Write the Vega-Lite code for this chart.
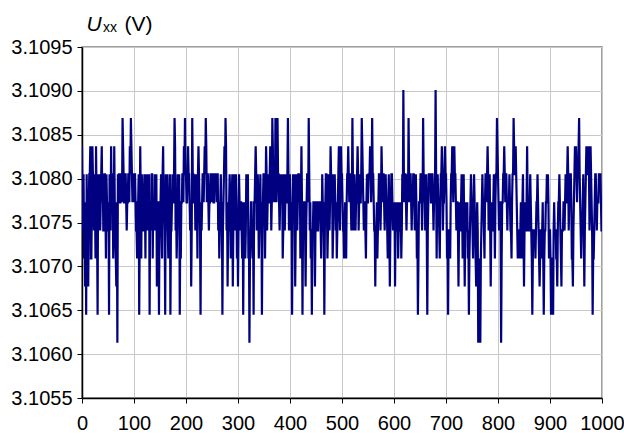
{
"$schema": "https://vega.github.io/schema/vega-lite/v6.json",
"width": 520,
"height": 351,
"autosize": {"type": "none"},
"padding": {"left": 82, "top": 47, "right": 22, "bottom": 36},
"background": "white",
"config": {"view": {"stroke": "#808080", "strokeWidth": 1.5}, "font": "Liberation Sans"},
"title": {"text": "xx", "anchor": "start", "frame": "group", "fontSize": 14, "font": "Liberation Sans", "fontWeight": "normal", "color": "black", "baseline": "alphabetic", "offset": 15, "dx": 21, "dy": 48},
"data": {"values": [
{"x":0,"y":3.10837},{"x":2,"y":3.10741},{"x":4,"y":3.10709},{"x":6,"y":3.10677},{"x":8,"y":3.10645},{"x":10,"y":3.10709},{"x":12,"y":3.10677},{"x":14,"y":3.10805},{"x":16,"y":3.10837},{"x":18,"y":3.10709},{"x":20,"y":3.10837},{"x":22,"y":3.10773},{"x":24,"y":3.10805},{"x":26,"y":3.10709},{"x":28,"y":3.10773},{"x":30,"y":3.10645},{"x":32,"y":3.10741},{"x":34,"y":3.10805},{"x":36,"y":3.10773},{"x":38,"y":3.10837},{"x":40,"y":3.10805},{"x":42,"y":3.10741},{"x":44,"y":3.10805},{"x":46,"y":3.10709},{"x":48,"y":3.10773},
{"x":50,"y":3.10741},{"x":52,"y":3.10645},{"x":54,"y":3.10773},{"x":56,"y":3.10837},{"x":58,"y":3.10805},{"x":60,"y":3.10709},{"x":62,"y":3.10837},{"x":64,"y":3.10741},{"x":66,"y":3.10677},{"x":68,"y":3.10613},{"x":70,"y":3.10773},{"x":72,"y":3.10805},{"x":74,"y":3.10773},{"x":76,"y":3.10805},{"x":78,"y":3.10869},{"x":80,"y":3.10805},{"x":82,"y":3.10773},{"x":84,"y":3.10805},{"x":86,"y":3.10741},{"x":88,"y":3.10773},{"x":90,"y":3.10805},{"x":92,"y":3.10837},{"x":94,"y":3.10869},{"x":96,"y":3.10805},{"x":98,"y":3.10805},
{"x":100,"y":3.10773},{"x":102,"y":3.10805},{"x":104,"y":3.10741},{"x":106,"y":3.10709},{"x":108,"y":3.10773},{"x":110,"y":3.10645},{"x":112,"y":3.10837},{"x":114,"y":3.10709},{"x":116,"y":3.10773},{"x":118,"y":3.10741},{"x":120,"y":3.10805},{"x":122,"y":3.10709},{"x":124,"y":3.10773},{"x":126,"y":3.10805},{"x":128,"y":3.10741},{"x":130,"y":3.10645},{"x":132,"y":3.10773},{"x":134,"y":3.10805},{"x":136,"y":3.10709},{"x":138,"y":3.10773},{"x":140,"y":3.10805},{"x":142,"y":3.10741},{"x":144,"y":3.10677},{"x":146,"y":3.10773},{"x":148,"y":3.10645},
{"x":150,"y":3.10741},{"x":152,"y":3.10805},{"x":154,"y":3.10709},{"x":156,"y":3.10837},{"x":158,"y":3.10773},{"x":160,"y":3.10645},{"x":162,"y":3.10741},{"x":164,"y":3.10805},{"x":166,"y":3.10709},{"x":168,"y":3.10773},{"x":170,"y":3.10645},{"x":172,"y":3.10741},{"x":174,"y":3.10805},{"x":176,"y":3.10773},{"x":178,"y":3.10869},{"x":180,"y":3.10741},{"x":182,"y":3.10709},{"x":184,"y":3.10805},{"x":186,"y":3.10773},{"x":188,"y":3.10645},{"x":190,"y":3.10709},{"x":192,"y":3.10773},{"x":194,"y":3.10805},{"x":196,"y":3.10837},{"x":198,"y":3.10869},
{"x":200,"y":3.10805},{"x":202,"y":3.10773},{"x":204,"y":3.10837},{"x":206,"y":3.10805},{"x":208,"y":3.10741},{"x":210,"y":3.10677},{"x":212,"y":3.10869},{"x":214,"y":3.10805},{"x":216,"y":3.10773},{"x":218,"y":3.10741},{"x":220,"y":3.10805},{"x":222,"y":3.10709},{"x":224,"y":3.10837},{"x":226,"y":3.10773},{"x":228,"y":3.10645},{"x":230,"y":3.10741},{"x":232,"y":3.10805},{"x":234,"y":3.10773},{"x":236,"y":3.10837},{"x":238,"y":3.10869},{"x":240,"y":3.10773},{"x":242,"y":3.10805},{"x":244,"y":3.10741},{"x":246,"y":3.10773},{"x":248,"y":3.10805},
{"x":250,"y":3.10805},{"x":252,"y":3.10805},{"x":254,"y":3.10773},{"x":256,"y":3.10805},{"x":258,"y":3.10805},{"x":260,"y":3.10805},{"x":262,"y":3.10741},{"x":264,"y":3.10709},{"x":266,"y":3.10773},{"x":268,"y":3.10741},{"x":270,"y":3.10645},{"x":272,"y":3.10773},{"x":274,"y":3.10837},{"x":276,"y":3.10869},{"x":278,"y":3.10741},{"x":280,"y":3.10677},{"x":282,"y":3.10741},{"x":284,"y":3.10805},{"x":286,"y":3.10709},{"x":288,"y":3.10773},{"x":290,"y":3.10677},{"x":292,"y":3.10805},{"x":294,"y":3.10741},{"x":296,"y":3.10805},{"x":298,"y":3.10709},
{"x":300,"y":3.10677},{"x":302,"y":3.10805},{"x":304,"y":3.10741},{"x":306,"y":3.10773},{"x":308,"y":3.10709},{"x":310,"y":3.10645},{"x":312,"y":3.10741},{"x":314,"y":3.10709},{"x":316,"y":3.10805},{"x":318,"y":3.10773},{"x":320,"y":3.10709},{"x":322,"y":3.10613},{"x":324,"y":3.10741},{"x":326,"y":3.10773},{"x":328,"y":3.10709},{"x":330,"y":3.10645},{"x":332,"y":3.10773},{"x":334,"y":3.10837},{"x":336,"y":3.10741},{"x":338,"y":3.10805},{"x":340,"y":3.10709},{"x":342,"y":3.10773},{"x":344,"y":3.10741},{"x":346,"y":3.10645},{"x":348,"y":3.10773},
{"x":350,"y":3.10805},{"x":352,"y":3.10709},{"x":354,"y":3.10837},{"x":356,"y":3.10741},{"x":358,"y":3.10805},{"x":360,"y":3.10773},{"x":362,"y":3.10837},{"x":364,"y":3.10741},{"x":366,"y":3.10869},{"x":368,"y":3.10773},{"x":370,"y":3.10805},{"x":372,"y":3.10869},{"x":374,"y":3.10773},{"x":376,"y":3.10869},{"x":378,"y":3.10805},{"x":380,"y":3.10741},{"x":382,"y":3.10805},{"x":384,"y":3.10773},{"x":386,"y":3.10709},{"x":388,"y":3.10773},{"x":390,"y":3.10741},{"x":392,"y":3.10805},{"x":394,"y":3.10773},{"x":396,"y":3.10869},{"x":398,"y":3.10741},
{"x":400,"y":3.10805},{"x":402,"y":3.10741},{"x":404,"y":3.10645},{"x":406,"y":3.10805},{"x":408,"y":3.10773},{"x":410,"y":3.10677},{"x":412,"y":3.10805},{"x":414,"y":3.10741},{"x":416,"y":3.10805},{"x":418,"y":3.10773},{"x":420,"y":3.10709},{"x":422,"y":3.10837},{"x":424,"y":3.10645},{"x":426,"y":3.10741},{"x":428,"y":3.10773},{"x":430,"y":3.10677},{"x":432,"y":3.10773},{"x":434,"y":3.10805},{"x":436,"y":3.10869},{"x":438,"y":3.10741},{"x":440,"y":3.10709},{"x":442,"y":3.10645},{"x":444,"y":3.10741},{"x":446,"y":3.10773},{"x":448,"y":3.10677},
{"x":450,"y":3.10773},{"x":452,"y":3.10773},{"x":454,"y":3.10741},{"x":456,"y":3.10773},{"x":458,"y":3.10773},{"x":460,"y":3.10709},{"x":462,"y":3.10805},{"x":464,"y":3.10741},{"x":466,"y":3.10645},{"x":468,"y":3.10773},{"x":470,"y":3.10805},{"x":472,"y":3.10709},{"x":474,"y":3.10805},{"x":476,"y":3.10741},{"x":478,"y":3.10837},{"x":480,"y":3.10773},{"x":482,"y":3.10709},{"x":484,"y":3.10805},{"x":486,"y":3.10805},{"x":488,"y":3.10741},{"x":490,"y":3.10709},{"x":492,"y":3.10773},{"x":494,"y":3.10837},{"x":496,"y":3.10741},{"x":498,"y":3.10837},
{"x":500,"y":3.10805},{"x":502,"y":3.10741},{"x":504,"y":3.10709},{"x":506,"y":3.10773},{"x":508,"y":3.10709},{"x":510,"y":3.10805},{"x":512,"y":3.10837},{"x":514,"y":3.10773},{"x":516,"y":3.10805},{"x":518,"y":3.10741},{"x":520,"y":3.10869},{"x":522,"y":3.10741},{"x":524,"y":3.10805},{"x":526,"y":3.10741},{"x":528,"y":3.10773},{"x":530,"y":3.10837},{"x":532,"y":3.10741},{"x":534,"y":3.10805},{"x":536,"y":3.10773},{"x":538,"y":3.10869},{"x":540,"y":3.10805},{"x":542,"y":3.10741},{"x":544,"y":3.10773},{"x":546,"y":3.10709},{"x":548,"y":3.10805},
{"x":550,"y":3.10773},{"x":552,"y":3.10805},{"x":554,"y":3.10837},{"x":556,"y":3.10773},{"x":558,"y":3.10869},{"x":560,"y":3.10805},{"x":562,"y":3.10741},{"x":564,"y":3.10677},{"x":566,"y":3.10741},{"x":568,"y":3.10709},{"x":570,"y":3.10773},{"x":572,"y":3.10805},{"x":574,"y":3.10741},{"x":576,"y":3.10837},{"x":578,"y":3.10773},{"x":580,"y":3.10805},{"x":582,"y":3.10741},{"x":584,"y":3.10805},{"x":586,"y":3.10773},{"x":588,"y":3.10709},{"x":590,"y":3.10805},{"x":592,"y":3.10677},{"x":594,"y":3.10773},{"x":596,"y":3.10805},{"x":598,"y":3.10741},
{"x":600,"y":3.10741},{"x":602,"y":3.10677},{"x":604,"y":3.10773},{"x":606,"y":3.10741},{"x":608,"y":3.10709},{"x":610,"y":3.10773},{"x":612,"y":3.10741},{"x":614,"y":3.10709},{"x":616,"y":3.10805},{"x":618,"y":3.10901},{"x":620,"y":3.10773},{"x":622,"y":3.10805},{"x":624,"y":3.10741},{"x":626,"y":3.10805},{"x":628,"y":3.10869},{"x":630,"y":3.10773},{"x":632,"y":3.10805},{"x":634,"y":3.10741},{"x":636,"y":3.10773},{"x":638,"y":3.10805},{"x":640,"y":3.10741},{"x":642,"y":3.10805},{"x":644,"y":3.10709},{"x":646,"y":3.10645},{"x":648,"y":3.10773},
{"x":650,"y":3.10773},{"x":652,"y":3.10805},{"x":654,"y":3.10741},{"x":656,"y":3.10869},{"x":658,"y":3.10773},{"x":660,"y":3.10741},{"x":662,"y":3.10805},{"x":664,"y":3.10645},{"x":666,"y":3.10773},{"x":668,"y":3.10805},{"x":670,"y":3.10805},{"x":672,"y":3.10773},{"x":674,"y":3.10805},{"x":676,"y":3.10741},{"x":678,"y":3.10773},{"x":680,"y":3.10901},{"x":682,"y":3.10709},{"x":684,"y":3.10805},{"x":686,"y":3.10773},{"x":688,"y":3.10709},{"x":690,"y":3.10805},{"x":692,"y":3.10837},{"x":694,"y":3.10741},{"x":696,"y":3.10773},{"x":698,"y":3.10837},
{"x":700,"y":3.10805},{"x":702,"y":3.10709},{"x":704,"y":3.10645},{"x":706,"y":3.10741},{"x":708,"y":3.10709},{"x":710,"y":3.10805},{"x":712,"y":3.10837},{"x":714,"y":3.10773},{"x":716,"y":3.10837},{"x":718,"y":3.10805},{"x":720,"y":3.10741},{"x":722,"y":3.10773},{"x":724,"y":3.10677},{"x":726,"y":3.10773},{"x":728,"y":3.10741},{"x":730,"y":3.10805},{"x":732,"y":3.10709},{"x":734,"y":3.10805},{"x":736,"y":3.10677},{"x":738,"y":3.10773},{"x":740,"y":3.10741},{"x":742,"y":3.10709},{"x":744,"y":3.10645},{"x":746,"y":3.10741},{"x":748,"y":3.10805},
{"x":750,"y":3.10773},{"x":752,"y":3.10709},{"x":754,"y":3.10805},{"x":756,"y":3.10741},{"x":758,"y":3.10677},{"x":760,"y":3.10773},{"x":762,"y":3.10613},{"x":764,"y":3.10709},{"x":766,"y":3.10613},{"x":768,"y":3.10741},{"x":770,"y":3.10805},{"x":772,"y":3.10773},{"x":774,"y":3.10709},{"x":776,"y":3.10805},{"x":778,"y":3.10773},{"x":780,"y":3.10837},{"x":782,"y":3.10741},{"x":784,"y":3.10805},{"x":786,"y":3.10677},{"x":788,"y":3.10773},{"x":790,"y":3.10741},{"x":792,"y":3.10805},{"x":794,"y":3.10709},{"x":796,"y":3.10805},{"x":798,"y":3.10869},
{"x":800,"y":3.10805},{"x":802,"y":3.10741},{"x":804,"y":3.10773},{"x":806,"y":3.10613},{"x":808,"y":3.10773},{"x":810,"y":3.10805},{"x":812,"y":3.10837},{"x":814,"y":3.10773},{"x":816,"y":3.10805},{"x":818,"y":3.10741},{"x":820,"y":3.10773},{"x":822,"y":3.10805},{"x":824,"y":3.10741},{"x":826,"y":3.10709},{"x":828,"y":3.10805},{"x":830,"y":3.10869},{"x":832,"y":3.10805},{"x":834,"y":3.10837},{"x":836,"y":3.10773},{"x":838,"y":3.10709},{"x":840,"y":3.10741},{"x":842,"y":3.10709},{"x":844,"y":3.10773},{"x":846,"y":3.10709},{"x":848,"y":3.10805},
{"x":850,"y":3.10677},{"x":852,"y":3.10773},{"x":854,"y":3.10741},{"x":856,"y":3.10837},{"x":858,"y":3.10741},{"x":860,"y":3.10741},{"x":862,"y":3.10805},{"x":864,"y":3.10741},{"x":866,"y":3.10645},{"x":868,"y":3.10741},{"x":870,"y":3.10741},{"x":872,"y":3.10709},{"x":874,"y":3.10773},{"x":876,"y":3.10805},{"x":878,"y":3.10741},{"x":880,"y":3.10677},{"x":882,"y":3.10741},{"x":884,"y":3.10709},{"x":886,"y":3.10773},{"x":888,"y":3.10645},{"x":890,"y":3.10741},{"x":892,"y":3.10773},{"x":894,"y":3.10805},{"x":896,"y":3.10805},{"x":898,"y":3.10709},
{"x":900,"y":3.10741},{"x":902,"y":3.10645},{"x":904,"y":3.10709},{"x":906,"y":3.10645},{"x":908,"y":3.10773},{"x":910,"y":3.10741},{"x":912,"y":3.10709},{"x":914,"y":3.10677},{"x":916,"y":3.10773},{"x":918,"y":3.10805},{"x":920,"y":3.10741},{"x":922,"y":3.10677},{"x":924,"y":3.10741},{"x":926,"y":3.10773},{"x":928,"y":3.10741},{"x":930,"y":3.10805},{"x":932,"y":3.10773},{"x":934,"y":3.10837},{"x":936,"y":3.10741},{"x":938,"y":3.10805},{"x":940,"y":3.10805},{"x":942,"y":3.10709},{"x":944,"y":3.10677},{"x":946,"y":3.10773},{"x":948,"y":3.10837},
{"x":950,"y":3.10837},{"x":952,"y":3.10773},{"x":954,"y":3.10805},{"x":956,"y":3.10869},{"x":958,"y":3.10773},{"x":960,"y":3.10709},{"x":962,"y":3.10741},{"x":964,"y":3.10805},{"x":966,"y":3.10677},{"x":968,"y":3.10773},{"x":970,"y":3.10837},{"x":972,"y":3.10805},{"x":974,"y":3.10837},{"x":976,"y":3.10741},{"x":978,"y":3.10837},{"x":980,"y":3.10773},{"x":982,"y":3.10645},{"x":984,"y":3.10709},{"x":986,"y":3.10773},{"x":988,"y":3.10805},{"x":990,"y":3.10741},{"x":992,"y":3.10773},{"x":994,"y":3.10805},{"x":996,"y":3.10805},{"x":998,"y":3.10773},{"x":1000,"y":3.10741},
{"x":1,"y":3.10773},{"x":3,"y":3.10805},{"x":5,"y":3.10741},{"x":7,"y":3.10773},{"x":9,"y":3.10805},{"x":11,"y":3.10741},{"x":13,"y":3.10773},{"x":15,"y":3.10805},{"x":17,"y":3.10709},{"x":19,"y":3.10773},{"x":21,"y":3.10805},{"x":23,"y":3.10741},{"x":25,"y":3.10773},{"x":27,"y":3.10837},{"x":29,"y":3.10741},{"x":31,"y":3.10805},{"x":33,"y":3.10773},{"x":35,"y":3.10741},{"x":37,"y":3.10805},{"x":39,"y":3.10773},{"x":41,"y":3.10741},{"x":43,"y":3.10805},{"x":45,"y":3.10773},{"x":47,"y":3.10805},{"x":49,"y":3.10741},
{"x":51,"y":3.10773},{"x":53,"y":3.10805},{"x":55,"y":3.10741},{"x":57,"y":3.10773},{"x":59,"y":3.10805},{"x":61,"y":3.10741},{"x":63,"y":3.10773},{"x":65,"y":3.10709},{"x":67,"y":3.10773},{"x":69,"y":3.10805},{"x":71,"y":3.10805},{"x":73,"y":3.10773},{"x":75,"y":3.10805},{"x":77,"y":3.10773},{"x":79,"y":3.10837},{"x":81,"y":3.10773},{"x":83,"y":3.10805},{"x":85,"y":3.10773},{"x":87,"y":3.10773},{"x":89,"y":3.10805},{"x":91,"y":3.10773},{"x":93,"y":3.10805},{"x":95,"y":3.10837},{"x":97,"y":3.10773},{"x":99,"y":3.10805},
{"x":101,"y":3.10805},{"x":103,"y":3.10773},{"x":105,"y":3.10741},{"x":107,"y":3.10773},{"x":109,"y":3.10805},{"x":111,"y":3.10741},{"x":113,"y":3.10773},{"x":115,"y":3.10805},{"x":117,"y":3.10741},{"x":119,"y":3.10773},{"x":121,"y":3.10773},{"x":123,"y":3.10805},{"x":125,"y":3.10741},{"x":127,"y":3.10773},{"x":129,"y":3.10805},{"x":131,"y":3.10773},{"x":133,"y":3.10741},{"x":135,"y":3.10805},{"x":137,"y":3.10773},{"x":139,"y":3.10741},{"x":141,"y":3.10773},{"x":143,"y":3.10805},{"x":145,"y":3.10741},{"x":147,"y":3.10773},{"x":149,"y":3.10741},
{"x":151,"y":3.10773},{"x":153,"y":3.10741},{"x":155,"y":3.10805},{"x":157,"y":3.10773},{"x":159,"y":3.10741},{"x":161,"y":3.10805},{"x":163,"y":3.10773},{"x":165,"y":3.10741},{"x":167,"y":3.10773},{"x":169,"y":3.10805},{"x":171,"y":3.10741},{"x":173,"y":3.10773},{"x":175,"y":3.10773},{"x":177,"y":3.10805},{"x":179,"y":3.10837},{"x":181,"y":3.10773},{"x":183,"y":3.10741},{"x":185,"y":3.10773},{"x":187,"y":3.10805},{"x":189,"y":3.10741},{"x":191,"y":3.10773},{"x":193,"y":3.10805},{"x":195,"y":3.10773},{"x":197,"y":3.10805},{"x":199,"y":3.10805},
{"x":201,"y":3.10773},{"x":203,"y":3.10805},{"x":205,"y":3.10805},{"x":207,"y":3.10773},{"x":209,"y":3.10773},{"x":211,"y":3.10741},{"x":213,"y":3.10805},{"x":215,"y":3.10773},{"x":217,"y":3.10805},{"x":219,"y":3.10773},{"x":221,"y":3.10773},{"x":223,"y":3.10805},{"x":225,"y":3.10805},{"x":227,"y":3.10741},{"x":229,"y":3.10773},{"x":231,"y":3.10773},{"x":233,"y":3.10805},{"x":235,"y":3.10805},{"x":237,"y":3.10805},{"x":239,"y":3.10837},{"x":241,"y":3.10805},{"x":243,"y":3.10773},{"x":245,"y":3.10773},{"x":247,"y":3.10805},{"x":249,"y":3.10773},
{"x":251,"y":3.10805},{"x":253,"y":3.10773},{"x":255,"y":3.10805},{"x":257,"y":3.10805},{"x":259,"y":3.10773},{"x":261,"y":3.10805},{"x":263,"y":3.10773},{"x":265,"y":3.10741},{"x":267,"y":3.10805},{"x":269,"y":3.10773},{"x":271,"y":3.10741},{"x":273,"y":3.10805},{"x":275,"y":3.10805},{"x":277,"y":3.10837},{"x":279,"y":3.10773},{"x":281,"y":3.10741},{"x":283,"y":3.10773},{"x":285,"y":3.10773},{"x":287,"y":3.10741},{"x":289,"y":3.10805},{"x":291,"y":3.10741},{"x":293,"y":3.10773},{"x":295,"y":3.10773},{"x":297,"y":3.10773},{"x":299,"y":3.10741},
{"x":301,"y":3.10741},{"x":303,"y":3.10773},{"x":305,"y":3.10773},{"x":307,"y":3.10741},{"x":309,"y":3.10773},{"x":311,"y":3.10741},{"x":313,"y":3.10773},{"x":315,"y":3.10741},{"x":317,"y":3.10773},{"x":319,"y":3.10805},{"x":321,"y":3.10741},{"x":323,"y":3.10709},{"x":325,"y":3.10773},{"x":327,"y":3.10741},{"x":329,"y":3.10741},{"x":331,"y":3.10773},{"x":333,"y":3.10805},{"x":335,"y":3.10805},{"x":337,"y":3.10773},{"x":339,"y":3.10773},{"x":341,"y":3.10741},{"x":343,"y":3.10805},{"x":345,"y":3.10773},{"x":347,"y":3.10741},{"x":349,"y":3.10805},
{"x":351,"y":3.10773},{"x":353,"y":3.10773},{"x":355,"y":3.10805},{"x":357,"y":3.10773},{"x":359,"y":3.10773},{"x":361,"y":3.10805},{"x":363,"y":3.10805},{"x":365,"y":3.10773},{"x":367,"y":3.10837},{"x":369,"y":3.10805},{"x":371,"y":3.10773},{"x":373,"y":3.10837},{"x":375,"y":3.10805},{"x":377,"y":3.10805},{"x":379,"y":3.10773},{"x":381,"y":3.10773},{"x":383,"y":3.10773},{"x":385,"y":3.10805},{"x":387,"y":3.10741},{"x":389,"y":3.10805},{"x":391,"y":3.10773},{"x":393,"y":3.10773},{"x":395,"y":3.10805},{"x":397,"y":3.10805},{"x":399,"y":3.10773},
{"x":401,"y":3.10773},{"x":403,"y":3.10773},{"x":405,"y":3.10741},{"x":407,"y":3.10773},{"x":409,"y":3.10805},{"x":411,"y":3.10741},{"x":413,"y":3.10773},{"x":415,"y":3.10773},{"x":417,"y":3.10805},{"x":419,"y":3.10805},{"x":421,"y":3.10773},{"x":423,"y":3.10773},{"x":425,"y":3.10741},{"x":427,"y":3.10773},{"x":429,"y":3.10741},{"x":431,"y":3.10741},{"x":433,"y":3.10805},{"x":435,"y":3.10773},{"x":437,"y":3.10805},{"x":439,"y":3.10773},{"x":441,"y":3.10741},{"x":443,"y":3.10741},{"x":445,"y":3.10773},{"x":447,"y":3.10741},{"x":449,"y":3.10741},
{"x":451,"y":3.10773},{"x":453,"y":3.10741},{"x":455,"y":3.10773},{"x":457,"y":3.10773},{"x":459,"y":3.10741},{"x":461,"y":3.10741},{"x":463,"y":3.10773},{"x":465,"y":3.10773},{"x":467,"y":3.10741},{"x":469,"y":3.10805},{"x":471,"y":3.10773},{"x":473,"y":3.10741},{"x":475,"y":3.10773},{"x":477,"y":3.10773},{"x":479,"y":3.10805},{"x":481,"y":3.10805},{"x":483,"y":3.10741},{"x":485,"y":3.10773},{"x":487,"y":3.10773},{"x":489,"y":3.10773},{"x":491,"y":3.10741},{"x":493,"y":3.10805},{"x":495,"y":3.10773},{"x":497,"y":3.10805},{"x":499,"y":3.10805},
{"x":501,"y":3.10773},{"x":503,"y":3.10741},{"x":505,"y":3.10741},{"x":507,"y":3.10741},{"x":509,"y":3.10773},{"x":511,"y":3.10805},{"x":513,"y":3.10805},{"x":515,"y":3.10805},{"x":517,"y":3.10773},{"x":519,"y":3.10773},{"x":521,"y":3.10805},{"x":523,"y":3.10773},{"x":525,"y":3.10773},{"x":527,"y":3.10773},{"x":529,"y":3.10805},{"x":531,"y":3.10805},{"x":533,"y":3.10773},{"x":535,"y":3.10773},{"x":537,"y":3.10805},{"x":539,"y":3.10837},{"x":541,"y":3.10773},{"x":543,"y":3.10773},{"x":545,"y":3.10741},{"x":547,"y":3.10773},{"x":549,"y":3.10773},
{"x":551,"y":3.10805},{"x":553,"y":3.10805},{"x":555,"y":3.10805},{"x":557,"y":3.10805},{"x":559,"y":3.10805},{"x":561,"y":3.10773},{"x":563,"y":3.10741},{"x":565,"y":3.10741},{"x":567,"y":3.10773},{"x":569,"y":3.10741},{"x":571,"y":3.10805},{"x":573,"y":3.10773},{"x":575,"y":3.10773},{"x":577,"y":3.10805},{"x":579,"y":3.10805},{"x":581,"y":3.10773},{"x":583,"y":3.10773},{"x":585,"y":3.10773},{"x":587,"y":3.10741},{"x":589,"y":3.10773},{"x":591,"y":3.10741},{"x":593,"y":3.10741},{"x":595,"y":3.10805},{"x":597,"y":3.10773},{"x":599,"y":3.10773},
{"x":601,"y":3.10773},{"x":603,"y":3.10741},{"x":605,"y":3.10741},{"x":607,"y":3.10773},{"x":609,"y":3.10741},{"x":611,"y":3.10741},{"x":613,"y":3.10773},{"x":615,"y":3.10741},{"x":617,"y":3.10773},{"x":619,"y":3.10805},{"x":621,"y":3.10805},{"x":623,"y":3.10773},{"x":625,"y":3.10773},{"x":627,"y":3.10773},{"x":629,"y":3.10805},{"x":631,"y":3.10805},{"x":633,"y":3.10773},{"x":635,"y":3.10773},{"x":637,"y":3.10805},{"x":639,"y":3.10773},{"x":641,"y":3.10773},{"x":643,"y":3.10773},{"x":645,"y":3.10741},{"x":647,"y":3.10709},{"x":649,"y":3.10773},
{"x":651,"y":3.10805},{"x":653,"y":3.10773},{"x":655,"y":3.10773},{"x":657,"y":3.10805},{"x":659,"y":3.10805},{"x":661,"y":3.10773},{"x":663,"y":3.10741},{"x":665,"y":3.10741},{"x":667,"y":3.10805},{"x":669,"y":3.10805},{"x":671,"y":3.10773},{"x":673,"y":3.10805},{"x":675,"y":3.10773},{"x":677,"y":3.10773},{"x":679,"y":3.10805},{"x":681,"y":3.10805},{"x":683,"y":3.10773},{"x":685,"y":3.10773},{"x":687,"y":3.10741},{"x":689,"y":3.10773},{"x":691,"y":3.10805},{"x":693,"y":3.10805},{"x":695,"y":3.10773},{"x":697,"y":3.10805},{"x":699,"y":3.10805},
{"x":701,"y":3.10773},{"x":703,"y":3.10741},{"x":705,"y":3.10741},{"x":707,"y":3.10741},{"x":709,"y":3.10773},{"x":711,"y":3.10805},{"x":713,"y":3.10805},{"x":715,"y":3.10805},{"x":717,"y":3.10805},{"x":719,"y":3.10773},{"x":721,"y":3.10773},{"x":723,"y":3.10741},{"x":725,"y":3.10741},{"x":727,"y":3.10741},{"x":729,"y":3.10773},{"x":731,"y":3.10773},{"x":733,"y":3.10773},{"x":735,"y":3.10741},{"x":737,"y":3.10741},{"x":739,"y":3.10741},{"x":741,"y":3.10773},{"x":743,"y":3.10741},{"x":745,"y":3.10709},{"x":747,"y":3.10773},{"x":749,"y":3.10773},
{"x":751,"y":3.10741},{"x":753,"y":3.10773},{"x":755,"y":3.10773},{"x":757,"y":3.10709},{"x":759,"y":3.10741},{"x":761,"y":3.10741},{"x":763,"y":3.10677},{"x":765,"y":3.10677},{"x":767,"y":3.10709},{"x":769,"y":3.10773},{"x":771,"y":3.10773},{"x":773,"y":3.10741},{"x":775,"y":3.10773},{"x":777,"y":3.10805},{"x":779,"y":3.10805},{"x":781,"y":3.10805},{"x":783,"y":3.10773},{"x":785,"y":3.10741},{"x":787,"y":3.10741},{"x":789,"y":3.10741},{"x":791,"y":3.10773},{"x":793,"y":3.10773},{"x":795,"y":3.10773},{"x":797,"y":3.10805},{"x":799,"y":3.10837},
{"x":801,"y":3.10773},{"x":803,"y":3.10773},{"x":805,"y":3.10741},{"x":807,"y":3.10709},{"x":809,"y":3.10773},{"x":811,"y":3.10805},{"x":813,"y":3.10805},{"x":815,"y":3.10805},{"x":817,"y":3.10773},{"x":819,"y":3.10773},{"x":821,"y":3.10773},{"x":823,"y":3.10773},{"x":825,"y":3.10741},{"x":827,"y":3.10773},{"x":829,"y":3.10805},{"x":831,"y":3.10837},{"x":833,"y":3.10805},{"x":835,"y":3.10805},{"x":837,"y":3.10741},{"x":839,"y":3.10741},{"x":841,"y":3.10741},{"x":843,"y":3.10741},{"x":845,"y":3.10741},{"x":847,"y":3.10773},{"x":849,"y":3.10741},
{"x":851,"y":3.10741},{"x":853,"y":3.10741},{"x":855,"y":3.10773},{"x":857,"y":3.10773},{"x":859,"y":3.10741},{"x":861,"y":3.10773},{"x":863,"y":3.10773},{"x":865,"y":3.10709},{"x":867,"y":3.10709},{"x":869,"y":3.10741},{"x":871,"y":3.10741},{"x":873,"y":3.10741},{"x":875,"y":3.10773},{"x":877,"y":3.10773},{"x":879,"y":3.10709},{"x":881,"y":3.10709},{"x":883,"y":3.10741},{"x":885,"y":3.10741},{"x":887,"y":3.10709},{"x":889,"y":3.10709},{"x":891,"y":3.10741},{"x":893,"y":3.10773},{"x":895,"y":3.10773},{"x":897,"y":3.10773},{"x":899,"y":3.10741},
{"x":901,"y":3.10709},{"x":903,"y":3.10709},{"x":905,"y":3.10709},{"x":907,"y":3.10741},{"x":909,"y":3.10741},{"x":911,"y":3.10741},{"x":913,"y":3.10709},{"x":915,"y":3.10741},{"x":917,"y":3.10773},{"x":919,"y":3.10773},{"x":921,"y":3.10709},{"x":923,"y":3.10741},{"x":925,"y":3.10741},{"x":927,"y":3.10773},{"x":929,"y":3.10773},{"x":931,"y":3.10773},{"x":933,"y":3.10805},{"x":935,"y":3.10805},{"x":937,"y":3.10773},{"x":939,"y":3.10805},{"x":941,"y":3.10773},{"x":943,"y":3.10709},{"x":945,"y":3.10741},{"x":947,"y":3.10805},{"x":949,"y":3.10805},
{"x":951,"y":3.10805},{"x":953,"y":3.10805},{"x":955,"y":3.10837},{"x":957,"y":3.10805},{"x":959,"y":3.10741},{"x":961,"y":3.10741},{"x":963,"y":3.10773},{"x":965,"y":3.10741},{"x":967,"y":3.10741},{"x":969,"y":3.10805},{"x":971,"y":3.10805},{"x":973,"y":3.10805},{"x":975,"y":3.10805},{"x":977,"y":3.10773},{"x":979,"y":3.10805},{"x":981,"y":3.10741},{"x":983,"y":3.10709},{"x":985,"y":3.10741},{"x":987,"y":3.10805},{"x":989,"y":3.10773},{"x":991,"y":3.10773},{"x":993,"y":3.10773},{"x":995,"y":3.10805},{"x":997,"y":3.10805},{"x":999,"y":3.10741}
]},
"mark": {"type": "line", "color": "#000080", "strokeWidth": 2.2, "interpolate": "linear", "clip": true},
"encoding": {
"x": {"field": "x", "type": "quantitative",
 "scale": {"domain": [0, 1000], "nice": false},
 "axis": {"values": [0,100,200,300,400,500,600,700,800,900,1000], "format": "d", "labelFontSize": 20, "labelColor": "black", "labelPadding": 10, "labelFlush": false, "labelFont": "Liberation Sans", "tickSize": 5, "tickColor": "black", "domainColor": "black", "domainWidth": 1.5, "gridColor": "#c8c8c8", "gridWidth": 1,
 "title": "(V)", "titleFont": "Liberation Sans", "titleFontSize": 21, "titleFontWeight": "normal", "titleColor": "black", "titleX": 42, "titleY": -368, "titleAlign": "left", "titleBaseline": "alphabetic", "titleAngle": 0}},
"y": {"field": "y", "type": "quantitative",
 "scale": {"domain": [3.1055, 3.1095], "nice": false, "zero": false},
 "axis": {"values": [3.1055,3.106,3.1065,3.107,3.1075,3.108,3.1085,3.109,3.1095], "format": ".4f", "labelFontSize": 20, "labelColor": "black", "labelPadding": 5, "labelFont": "Liberation Sans", "labelFlush": false, "tickSize": 5, "tickColor": "black", "domainColor": "black", "domainWidth": 1.5, "gridColor": "#c8c8c8", "gridWidth": 1,
 "title": "U", "titleFont": "Liberation Sans", "titleFontStyle": "italic", "titleFontSize": 21, "titleFontWeight": "normal", "titleColor": "black", "titleAngle": 0, "titleX": 4, "titleY": -17, "titleAlign": "left", "titleBaseline": "alphabetic"}}
}
}
